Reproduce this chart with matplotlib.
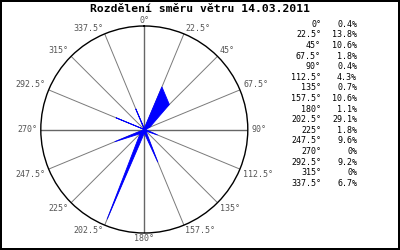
import numpy as np
import matplotlib
matplotlib.use("Agg")
import matplotlib.pyplot as plt

title = "Rozdělení směru větru 14.03.2011"
directions = [0, 22.5, 45, 67.5, 90, 112.5, 135, 157.5, 180, 202.5, 225, 247.5, 270, 292.5, 315, 337.5]
dir_labels = ["0°", "22.5°", "45°", "67.5°", "90°", "112.5°", "135°", "157.5°",
              "180°", "202.5°", "225°", "247.5°", "270°", "292.5°", "315°", "337.5°"]
percent = [0.4, 13.8, 10.6, 1.8, 0.4, 4.3, 0.7, 10.6, 1.1, 29.1, 1.8, 9.6, 0, 9.2, 0, 6.7]
pct_labels = ["0.4%", "13.8%", "10.6%", "1.8%", "0.4%", "4.3%", "0.7%", "10.6%",
              "1.1%", "29.1%", "1.8%", "9.6%", "0%", "9.2%", "0%", "6.7%"]
rmax = 31.0

W, H = 400, 250
fig = plt.figure(figsize=(W / 100, H / 100), dpi=100)
fig.patch.set_facecolor("white")
fig.patch.set_edgecolor("black")
fig.patch.set_linewidth(1.5)

cx, cy, R = 144.3, 129.5, 103.5
ax = fig.add_axes([(cx - R) / W, (H - cy - R) / H, 2 * R / W, 2 * R / H], projection="polar")
ax.set_theta_zero_location("N")
ax.set_theta_direction(-1)
ax.set_ylim(0, rmax)
ax.grid(False)
ax.set_xticks([])
ax.set_yticks([])
ax.spines["polar"].set_color("black")
ax.spines["polar"].set_linewidth(1.0)
ax.set_facecolor("white")

th = np.deg2rad(directions)
for d, t in zip(directions, th):
    main = d % 90 == 0
    ax.plot([t, t], [0, rmax], color="#666666" if main else "#7a7a7a",
            lw=1.0 if main else 0.7, zorder=1)

tc = np.append(th, th[0])
rc = np.append(percent, percent[0])
ax.fill(tc, rc, facecolor="#0000ff", edgecolor="#0000ff", lw=0.6, zorder=3)

mono = "DejaVu Sans Mono"
for d, t, lab in zip(directions, th, dir_labels):
    s = np.sin(t)
    c = np.cos(t)
    if abs(s) < 1e-6:
        ha = "center"
    elif s > 0:
        ha = "left"
    else:
        ha = "right"
    if abs(c) < 1e-6:
        va = "center"
    elif c > 0:
        va = "bottom"
    else:
        va = "top"
    ax.annotate(lab, xy=(t, rmax), xytext=(2.5 * s, 1.0 * c), textcoords="offset points",
                ha=ha, va=va, fontsize=6.0, family=mono, color="#555555",
                annotation_clip=False)

fig.text(0.5, 1 - 9.0 / H, title, ha="center", va="center", fontsize=8.2,
         family=mono, fontweight="bold", color="black")

y0, dy = 24.3, 10.6
for i, (dl, pl) in enumerate(zip(dir_labels, pct_labels)):
    y = 1 - (y0 + i * dy) / H
    fig.text(321 / W, y, dl, ha="right", va="center", fontsize=6.0, family=mono, color="black")
    fig.text(357 / W, y, pl, ha="right", va="center", fontsize=6.0, family=mono, color="black")

fig.savefig("out.png", dpi=100, facecolor=fig.get_facecolor(), edgecolor=fig.get_edgecolor())
